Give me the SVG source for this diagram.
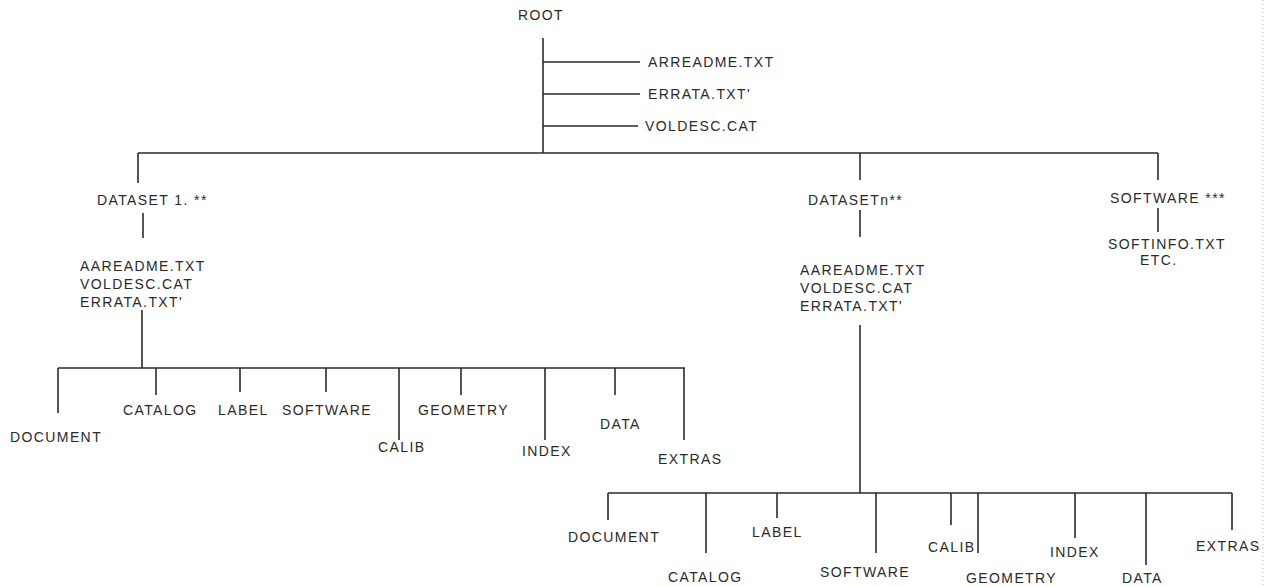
<svg xmlns="http://www.w3.org/2000/svg" width="1270" height="587" viewBox="0 0 1270 587">
<style>
text{font-family:"Liberation Sans",Arial,sans-serif;font-size:14px;letter-spacing:1.4px;fill:#2a2a2a}
.c line{stroke:#2a2a2a;stroke-width:1.6;fill:none}
.edge{stroke:#bbb;stroke-width:1;stroke-dasharray:1 3}
</style>
<rect width="1270" height="587" fill="#fff"/>
<line class="edge" x1="1263" y1="0" x2="1263" y2="587"/>
<g id="connectors" class="c">
<line x1="543" y1="38" x2="543" y2="153"/>
<line x1="543" y1="62" x2="640" y2="62"/>
<line x1="543" y1="94" x2="640" y2="94"/>
<line x1="543" y1="126" x2="638" y2="126"/>
<line x1="138" y1="153" x2="1158" y2="153"/>
<line x1="138" y1="153" x2="138" y2="183"/>
<line x1="860" y1="153" x2="860" y2="180"/>
<line x1="1158" y1="153" x2="1158" y2="180"/>
<line x1="143" y1="213" x2="143" y2="238"/>
<line x1="142" y1="310" x2="142" y2="368"/>
<line x1="58" y1="368" x2="685" y2="368"/>
<line x1="58" y1="368" x2="58" y2="413"/>
<line x1="156" y1="368" x2="156" y2="395"/>
<line x1="240" y1="368" x2="240" y2="392"/>
<line x1="326" y1="368" x2="326" y2="392"/>
<line x1="399" y1="368" x2="399" y2="440"/>
<line x1="461" y1="368" x2="461" y2="395"/>
<line x1="545" y1="368" x2="545" y2="440"/>
<line x1="615" y1="368" x2="615" y2="395"/>
<line x1="684" y1="368" x2="684" y2="440"/>
<line x1="860" y1="210" x2="860" y2="237"/>
<line x1="860" y1="325" x2="860" y2="493"/>
<line x1="608" y1="493" x2="1232" y2="493"/>
<line x1="608" y1="493" x2="608" y2="520"/>
<line x1="706" y1="493" x2="706" y2="553"/>
<line x1="777" y1="493" x2="777" y2="518"/>
<line x1="876" y1="493" x2="876" y2="553"/>
<line x1="951" y1="493" x2="951" y2="525"/>
<line x1="978" y1="493" x2="978" y2="553"/>
<line x1="1075" y1="493" x2="1075" y2="538"/>
<line x1="1146" y1="493" x2="1146" y2="565"/>
<line x1="1232" y1="493" x2="1232" y2="530"/>
<line x1="1158" y1="208" x2="1158" y2="232"/>
</g>
<g id="root"><text x="518" y="20">ROOT</text></g>
<g id="root-files">
<text x="648" y="67">ARREADME.TXT</text>
<text x="648" y="99">ERRATA.TXT'</text>
<text x="645" y="131">VOLDESC.CAT</text>
</g>
<g id="dataset1"><text x="97" y="205">DATASET 1. **</text></g>
<g id="dataset1-files">
<text x="80" y="271">AAREADME.TXT</text>
<text x="80" y="289">VOLDESC.CAT</text>
<text x="80" y="307">ERRATA.TXT'</text>
</g>
<g id="d1-document"><text x="10" y="442">DOCUMENT</text></g>
<g id="d1-catalog"><text x="123" y="415">CATALOG</text></g>
<g id="d1-label"><text x="218" y="415">LABEL</text></g>
<g id="d1-software"><text x="282" y="415">SOFTWARE</text></g>
<g id="d1-calib"><text x="378" y="452">CALIB</text></g>
<g id="d1-geometry"><text x="418" y="415">GEOMETRY</text></g>
<g id="d1-index"><text x="522" y="456">INDEX</text></g>
<g id="d1-data"><text x="600" y="429">DATA</text></g>
<g id="d1-extras"><text x="658" y="464">EXTRAS</text></g>
<g id="datasetn"><text x="808" y="205">DATASETn**</text></g>
<g id="datasetn-files">
<text x="800" y="275">AAREADME.TXT</text>
<text x="800" y="293">VOLDESC.CAT</text>
<text x="800" y="311">ERRATA.TXT'</text>
</g>
<g id="dn-document"><text x="568" y="542">DOCUMENT</text></g>
<g id="dn-catalog"><text x="668" y="582">CATALOG</text></g>
<g id="dn-label"><text x="752" y="537">LABEL</text></g>
<g id="dn-software"><text x="820" y="577">SOFTWARE</text></g>
<g id="dn-calib"><text x="928" y="552">CALIB</text></g>
<g id="dn-geometry"><text x="966" y="583">GEOMETRY</text></g>
<g id="dn-index"><text x="1050" y="557">INDEX</text></g>
<g id="dn-data"><text x="1122" y="583">DATA</text></g>
<g id="dn-extras"><text x="1196" y="551">EXTRAS</text></g>
<g id="software"><text x="1110" y="203">SOFTWARE ***</text></g>
<g id="software-files">
<text x="1108" y="249">SOFTINFO.TXT</text>
<text x="1140" y="265">ETC.</text>
</g>
</svg>
